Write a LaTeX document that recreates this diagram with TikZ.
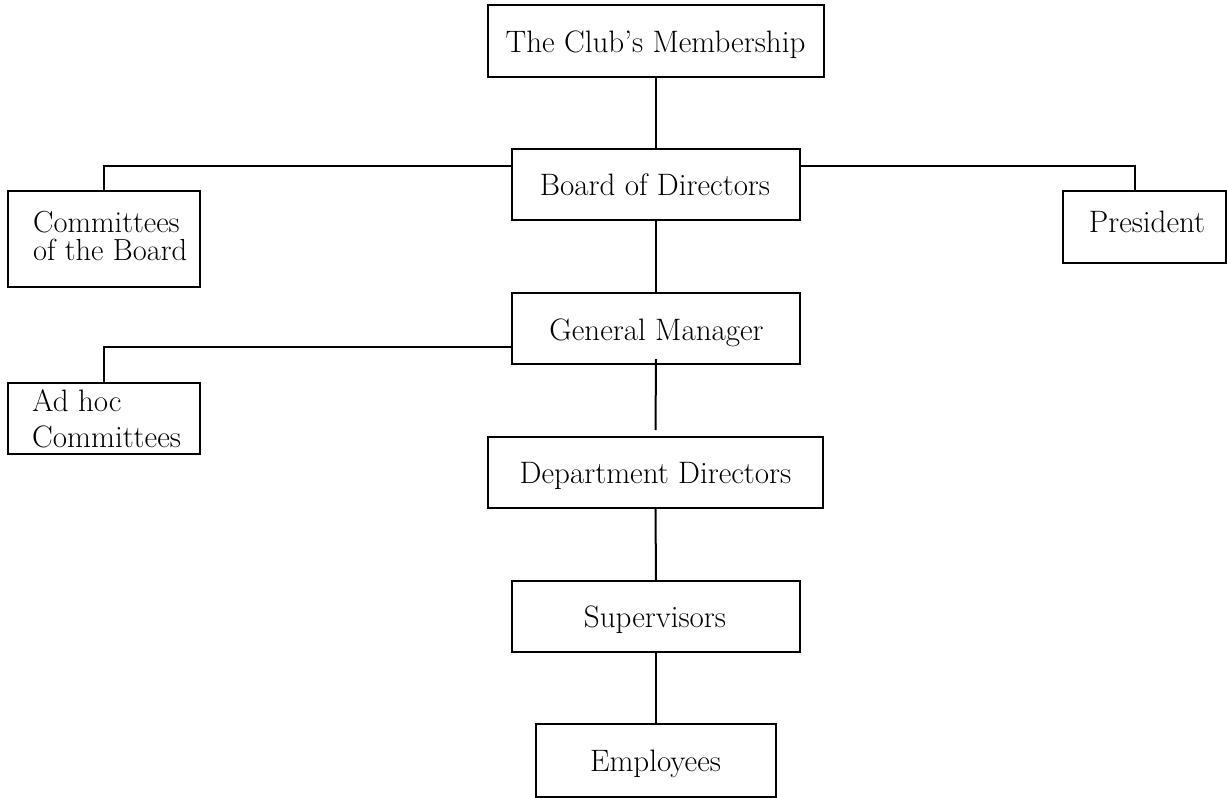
\documentclass[tikz,border=0pt]{standalone}
\usepackage{fontspec}
\setmainfont{Latin Modern Roman}
\tikzset{
  box/.style={draw=black, line width=2pt, rectangle, inner sep=0pt, fill=white},
  txt/.style={inner sep=0pt, font=\fontsize{31}{36}\selectfont, text=black},
  conn/.style={draw=black, line width=2pt}
}
\begin{document}
\begin{tikzpicture}[x=1pt,y=-1pt]
\useasboundingbox[fill=white] (0,0) rectangle (1227,798);
% boxes
\node[box, minimum width=336pt, minimum height=72pt] (mem) at (656,41) {};
\node[box, minimum width=288pt, minimum height=71pt] (bod) at (656,184.5) {};
\node[box, minimum width=192pt, minimum height=96pt] (cob) at (104,239) {};
\node[box, minimum width=163pt, minimum height=72pt] (pres) at (1144.5,227) {};
\node[box, minimum width=288pt, minimum height=71pt] (gm) at (656,328.5) {};
\node[box, minimum width=192pt, minimum height=71pt] (adhoc) at (104,418.5) {};
\node[box, minimum width=335pt, minimum height=71pt] (dd) at (655.5,472.5) {};
\node[box, minimum width=288pt, minimum height=71pt] (sup) at (656,616.5) {};
\node[box, minimum width=240pt, minimum height=73pt] (emp) at (656,760.5) {};
% texts
\node[txt, anchor=base] (tmem) at (655.5,52) {The Club's Membership};
\node[txt, anchor=base] (tbod) at (655,195) {Board of Directors};
\node[txt, anchor=base west, align=left, font=\fontsize{30.5}{28.5}\selectfont] (tcob) at (33,260.5) {Committees\\of the Board};
\node[txt, anchor=base] (tpres) at (1147,232) {President};
\node[txt, anchor=base] (tgm) at (656.5,340) {General Manager};
\node[txt, anchor=base west, align=left, font=\fontsize{31}{36}\selectfont] (tadh) at (32,447) {Ad hoc\\Committees};
\node[txt, anchor=base] (tdd) at (655.5,483) {Department Directors};
\node[txt, anchor=base] (tsup) at (655,627) {Supervisors};
\node[txt, anchor=base] (temp) at (655.5,771) {Employees};
% connectors
\draw[conn] (mem.south) -- (bod.north);
\draw[conn] ([yshift=18.5pt]bod.west) -| (cob.north);
\draw[conn] ([yshift=18.5pt]bod.east) -| ([xshift=-9.5pt]pres.north);
\draw[conn] (bod.south) -- (gm.north);
\draw[conn] ([yshift=-18pt]gm.west) -| (adhoc.north);
\draw[conn] ([yshift=6pt]gm.south) -- ([yshift=6pt]dd.north);
\draw[conn] (dd.south) -- (sup.north);
\draw[conn] (sup.south) -- (emp.north);
\end{tikzpicture}
\end{document}
